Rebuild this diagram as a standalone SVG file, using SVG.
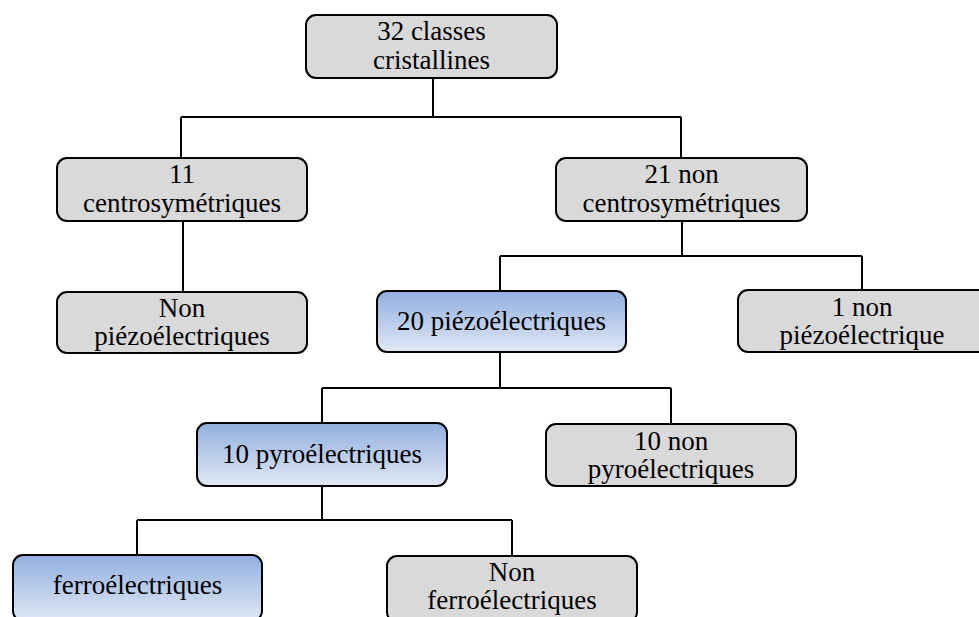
<svg xmlns="http://www.w3.org/2000/svg" width="979" height="617" viewBox="0 0 979 617">
<defs>
<linearGradient id="blue" x1="0" y1="0" x2="0" y2="1">
<stop offset="0" stop-color="#91afdf"/>
<stop offset="1" stop-color="#e0e8f5"/>
</linearGradient>
<style>
.box{fill:#d9d9d9;stroke:#000;stroke-width:2}
.bl{fill:url(#blue);stroke:#000;stroke-width:2}
.c{fill:none;stroke:#000;stroke-width:2}
</style>
</defs>
<rect width="979" height="617" fill="#fff"/>
<g id="connectors">
<path class="c" d="M433,78V117M181,117H681M181,117V158M681,117V158"/>
<path class="c" d="M183,221V292"/>
<path class="c" d="M682,221V256M500,256H862M500,256V291M862,256V290"/>
<path class="c" d="M500,352V388M322,388H671M322,388V423M671,388V424"/>
<path class="c" d="M322,486V520M137,520H512M137,520V555M512,520V556"/>
</g>
<g id="n1"><rect class="box" x="306" y="15" width="251" height="63" rx="10"/><text x="431.5" y="40" font-size="27" text-anchor="middle" style="font-family:'Liberation Serif',serif">32 classes</text><text x="431.5" y="69" font-size="27" text-anchor="middle" style="font-family:'Liberation Serif',serif">cristallines</text></g>
<g id="n2"><rect class="box" x="57" y="158" width="250" height="63" rx="10"/><text x="182" y="183" font-size="27" text-anchor="middle" style="font-family:'Liberation Serif',serif">11</text><text x="182" y="212" font-size="27" text-anchor="middle" style="font-family:'Liberation Serif',serif">centrosymétriques</text></g>
<g id="n3"><rect class="box" x="556" y="158" width="251" height="63" rx="10"/><text x="681.5" y="183" font-size="27" text-anchor="middle" style="font-family:'Liberation Serif',serif">21 non</text><text x="681.5" y="212" font-size="27" text-anchor="middle" style="font-family:'Liberation Serif',serif">centrosymétriques</text></g>
<g id="n4"><rect class="box" x="57" y="292" width="250" height="61" rx="10"/><text x="182" y="317" font-size="27" text-anchor="middle" style="font-family:'Liberation Serif',serif">Non</text><text x="182" y="345" font-size="27" text-anchor="middle" style="font-family:'Liberation Serif',serif">piézoélectriques</text></g>
<g id="n5"><rect class="bl" x="377" y="291" width="249" height="61" rx="10"/><text x="501.5" y="330" font-size="27" text-anchor="middle" style="font-family:'Liberation Serif',serif">20 piézoélectriques</text></g>
<g id="n6"><rect class="box" x="738" y="290" width="250" height="62" rx="10"/><text x="862" y="316" font-size="27" text-anchor="middle" style="font-family:'Liberation Serif',serif">1 non</text><text x="862" y="344" font-size="27" text-anchor="middle" style="font-family:'Liberation Serif',serif">piézoélectrique</text></g>
<g id="n7"><rect class="bl" x="197" y="423" width="250" height="63" rx="10"/><text x="322" y="463" font-size="27" text-anchor="middle" style="font-family:'Liberation Serif',serif">10 pyroélectriques</text></g>
<g id="n8"><rect class="box" x="546" y="424" width="250" height="62" rx="10"/><text x="671" y="450" font-size="27" text-anchor="middle" style="font-family:'Liberation Serif',serif">10 non</text><text x="671" y="478" font-size="27" text-anchor="middle" style="font-family:'Liberation Serif',serif">pyroélectriques</text></g>
<g id="n9"><rect class="bl" x="13" y="555" width="249" height="66" rx="10"/><text x="137.5" y="594" font-size="27" text-anchor="middle" style="font-family:'Liberation Serif',serif">ferroélectriques</text></g>
<g id="n10"><rect class="box" x="387" y="556" width="250" height="66" rx="10"/><text x="512" y="581" font-size="27" text-anchor="middle" style="font-family:'Liberation Serif',serif">Non</text><text x="512" y="609" font-size="27" text-anchor="middle" style="font-family:'Liberation Serif',serif">ferroélectriques</text></g>
</svg>
